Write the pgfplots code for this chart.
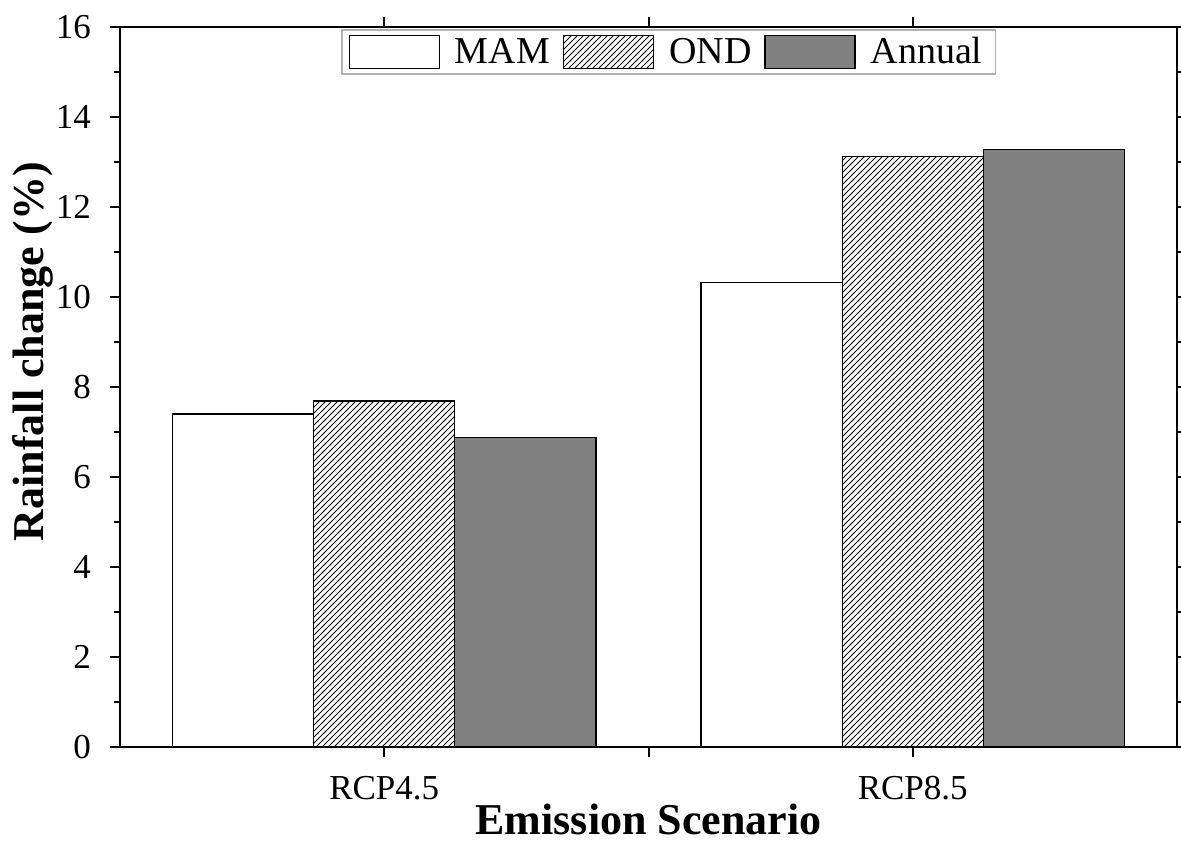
\documentclass[border=0pt]{standalone}
\usepackage{fontspec}
\setmainfont{Liberation Serif}
\usepackage{pgfplots}
\pgfplotsset{compat=1.18}
\usetikzlibrary{patterns}
\begin{document}
\begin{tikzpicture}
\begin{axis}[
  scale only axis, width=528.5pt, height=360pt,
  xmin=0.5, xmax=2.5, ymin=0, ymax=16,
  xtick={1,1.5,2}, xticklabels={RCP4.5,,RCP8.5},
  ytick={0,2,...,16}, minor y tick num=1,
  tick align=outside, major tick length=5pt, minor tick length=3pt,
  axis line style={line width=1pt},
  every tick/.style={black, line width=1pt},
  /pgf/number format/assume math mode=true,
  xticklabel style={font=\fontsize{17.5}{19}\selectfont, anchor=north, yshift=-6pt},
  yticklabel style={font=\fontsize{17.5}{19}\selectfont, anchor=east, xshift=-6pt},
  xlabel={\textbf{Emission Scenario}},
  ylabel={\textbf{Rainfall change (\%)}},
  xlabel style={font=\fontsize{22}{24}\selectfont, at={(axis description cs:0.5,-0.1)}, anchor=center},
  ylabel style={font=\fontsize{22}{24}\selectfont, at={(axis description cs:-0.0823,0.549)}, anchor=center},
  ybar, bar width=0.267,
  legend columns=3,
  legend image code/.code={\draw[#1] (0pt,-8.25pt) rectangle (45pt,8.25pt);},
  legend style={at={(0.209,0.997)}, anchor=north west, draw=gray!60, line width=0.8pt,
    font=\fontsize{19}{21}\selectfont, inner xsep=3.5pt, inner ysep=2.5pt,
    nodes={inner xsep=3pt, inner ysep=1pt},
    /tikz/every odd column/.append style={column sep=4.5pt},
    /tikz/every even column/.append style={column sep=3.5pt}},
]
\addplot[draw=black, fill=white, line width=0.6pt, bar shift=-0.267] coordinates {(1,7.40) (2,10.33)};
\addplot[draw=black, pattern=north east lines, line width=0.6pt, bar shift=0] coordinates {(1,7.69) (2,13.13)};
\addplot[draw=black, fill=black!50, line width=0.6pt, bar shift=0.267] coordinates {(1,6.87) (2,13.27)};
\legend{MAM,OND,Annual}
\end{axis}
\pgfresetboundingbox
\useasboundingbox ([xshift=-60pt,yshift=-47pt]current axis.south west) rectangle ([xshift=2pt,yshift=13.5pt]current axis.north east);
\end{tikzpicture}
\end{document}
